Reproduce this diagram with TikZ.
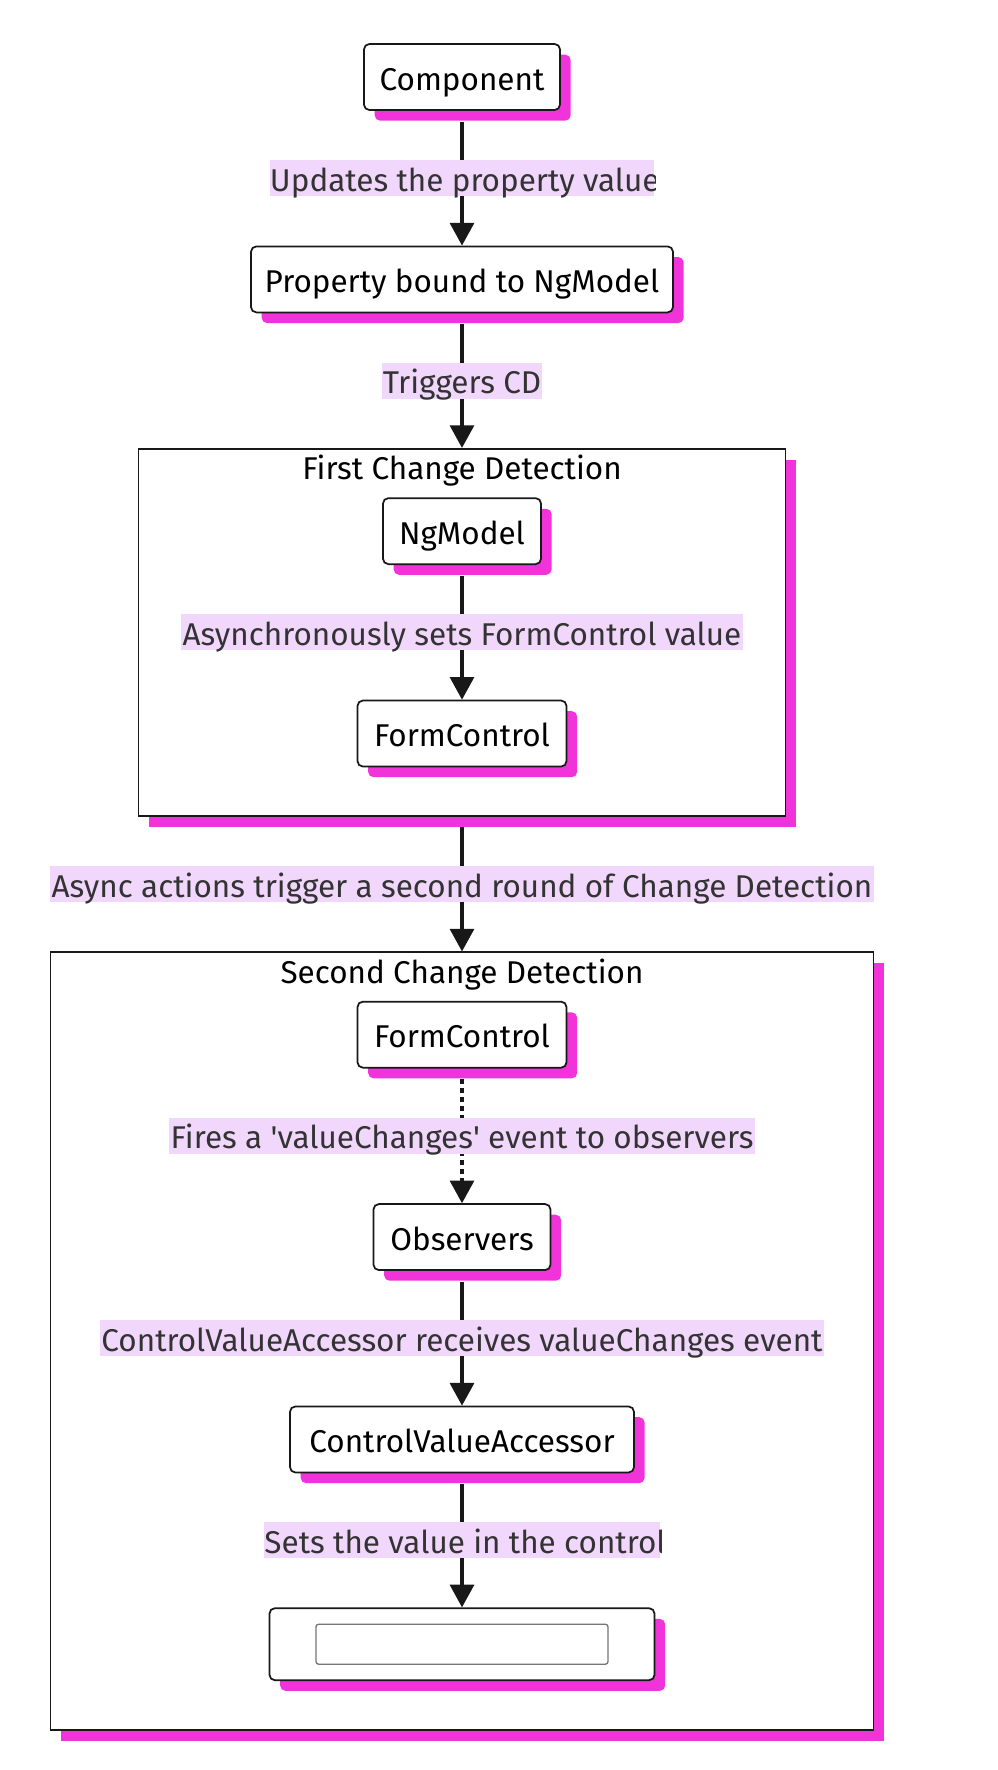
\documentclass[tikz,border=0pt]{standalone}
\usepackage{fontspec}
\setmainfont{Fira Sans}
\usepackage{xcolor}
\usepackage{tikz}
\usetikzlibrary{positioning,calc,arrows.meta,shadows}

\definecolor{shadowpink}{HTML}{F034D9}
\definecolor{labelbg}{HTML}{F1D7FB}
\definecolor{labeltext}{HTML}{333333}
\definecolor{linedark}{HTML}{181818}
\definecolor{fieldgray}{HTML}{767676}

\begin{document}
\begin{tikzpicture}[>={Triangle[width=18pt,length=17pt]}, node distance=101pt,
    font=\fontsize{23.6pt}{28pt}\selectfont,
    pinkshadow/.style={drop shadow={shadow xshift=8pt, shadow yshift=-8pt, fill=shadowpink, opacity=1}},
    box/.style={draw=linedark, line width=1.3pt, rounded corners=4pt, fill=white, pinkshadow,
      minimum height=49.5pt, inner sep=0pt, text=black, text height=20.5pt, text depth=1pt},
    cdbox/.style={draw=linedark, line width=1.4pt, fill=white, pinkshadow, inner sep=0pt},
    cdtitle/.style={inner sep=0pt, text=black, text height=20.5pt, text depth=1pt},
    field/.style={draw=fieldgray, line width=1pt, rounded corners=2pt, fill=white, inner sep=0pt},
    lbl/.style={fill=labelbg, text=labeltext, inner xsep=1pt, inner ysep=0pt, minimum height=27pt,
      text height=20.5pt, text depth=1pt},
    flow/.style={->, draw=linedark, line width=2.4pt, shorten <=8pt}]
  \useasboundingbox (-346.5pt,57.75pt) rectangle (402pt,-1269.75pt);

  \node[box, minimum width=147pt] (comp) at (0,0) {Component};
  \node[box, minimum width=316.5pt, below=of comp] (prop) {Property bound to NgModel};

  \node[cdbox, minimum width=485.25pt, minimum height=275.25pt, below=of prop] (cd1) {};
  \node[cdtitle] (cd1title) at ([yshift=-14.25pt]cd1.north) {First Change Detection};
  \node[box, minimum width=118.5pt, below=37pt of cd1.north] (ngm) {NgModel};
  \node[box, minimum width=156.75pt, below=of ngm] (fc1) {FormControl};

  \node[cdbox, minimum width=617.25pt, minimum height=583.5pt, below=of cd1] (cd2) {};
  \node[cdtitle] (cd2title) at ([yshift=-14.25pt]cd2.north) {Second Change Detection};
  \node[box, minimum width=156.75pt, below=37pt of cd2.north] (fc2) {FormControl};
  \node[box, minimum width=132.75pt, below=of fc2] (obs) {Observers};
  \node[box, minimum width=258pt, below=of obs] (cva) {ControlValueAccessor};
  \node[box, minimum width=288.75pt, minimum height=54pt, below=100.5pt of cva] (ctl) {};
  \node[field, minimum width=219pt, minimum height=30pt] (ctlfield) at (ctl) {};

  \draw[flow] (comp) -- node[lbl, minimum width=288pt] (lupd) {} (prop);
  \draw[flow] (prop) -- node[lbl] (ltrig) {Triggers CD} (cd1);
  \draw[flow] (ngm) -- node[lbl] (lasync) {Asynchronously sets FormControl value} (fc1);
  \draw[flow] (cd1) -- node[lbl] (lround) {Async actions trigger a second round of Change Detection} (cd2);
  \draw[flow, dash pattern=on 3.75pt off 3pt] (fc2) -- node[lbl] (lfire)
    {Fires a \textquotesingle valueChanges\textquotesingle{} event to observers} (obs);
  \draw[flow] (obs) -- node[lbl] (lrecv) {ControlValueAccessor receives valueChanges event} (cva);
  \draw[flow] (cva) -- node[lbl, minimum width=296.25pt] (lset) {} (ctl);

  % labels cut off at the edge of their background
  \begin{scope}
    \clip (lupd.south west) rectangle (lupd.north east);
    \node[lbl, fill=none, anchor=west] at (lupd.west) {Updates the property value};
  \end{scope}
  \begin{scope}
    \clip (lset.south west) rectangle (lset.north east);
    \node[lbl, fill=none, anchor=west] at (lset.west) {Sets the value in the control};
  \end{scope}
\end{tikzpicture}
\end{document}
